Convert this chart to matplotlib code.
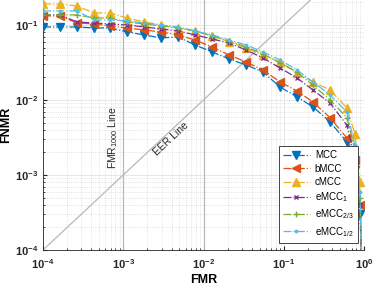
import numpy as np
import matplotlib
matplotlib.use("Agg")
import matplotlib.pyplot as plt
from matplotlib.ticker import LogLocator, FuncFormatter, NullFormatter

plt.rcParams['font.family'] = ['Liberation Sans', 'DejaVu Sans']
plt.rcParams['mathtext.fontset'] = 'custom'
plt.rcParams['mathtext.rm'] = 'Liberation Sans'
plt.rcParams['mathtext.it'] = 'Liberation Sans'
plt.rcParams['mathtext.bf'] = 'Liberation Sans:bold'

# FMR operating points (shared by every curve)
fmr = [1e-4, 1.63e-4, 2.65e-4, 4.33e-4, 6.84e-4, 1.11e-3, 1.82e-3, 2.95e-3,
       4.81e-3, 7.83e-3, 0.0128, 0.0208, 0.0339, 0.0551, 0.0898, 0.146,
       0.231, 0.377, 0.614, 0.772, 0.891, 0.944]

fnmr_mcc = [0.094, 0.094, 0.094, 0.0912, 0.0912, 0.0807, 0.0736, 0.0671,
            0.0692, 0.0541, 0.0437, 0.0352, 0.0293, 0.0236, 0.0149, 0.011,
            0.0081, 0.0051, 0.00275, 0.00117, 0.0003, 5e-5]
fnmr_bmcc = [0.132, 0.132, 0.1063, 0.1031, 0.097, 0.0912, 0.0858, 0.0807,
             0.0736, 0.0631, 0.0509, 0.0398, 0.0321, 0.0251, 0.0174, 0.0132,
             0.0094, 0.0058, 0.0031, 0.00158, 0.0004, 5e-5]
fnmr_cmcc = [0.19, 0.19, 0.179, 0.1445, 0.1445, 0.124, 0.1096, 0.1, 0.0912,
             0.0832, 0.0714, 0.0594, 0.0494, 0.0398, 0.0321, 0.0229, 0.0174,
             0.0136, 0.0078, 0.0035, 0.0008, 5e-5]
fnmr_emcc1 = [0.136, 0.136, 0.1096, 0.1063, 0.1031, 0.1, 0.094, 0.0885,
              0.0832, 0.0736, 0.0651, 0.0575, 0.0464, 0.0363, 0.0267, 0.0197,
              0.0136, 0.0091, 0.0046, 0.00158, 0.0004, 5e-5]
fnmr_emcc23 = [0.136, 0.136, 0.136, 0.124, 0.124, 0.1096, 0.1031, 0.097,
               0.0912, 0.0832, 0.0714, 0.0612, 0.0509, 0.0411, 0.0311, 0.0236,
               0.0158, 0.01, 0.0058, 0.00215, 0.0005, 5e-5]
fnmr_emcc12 = [0.1537, 0.1537, 0.1537, 0.1166, 0.1166, 0.113, 0.1063, 0.1,
               0.094, 0.0832, 0.0736, 0.0631, 0.0541, 0.0437, 0.0342, 0.0251,
               0.0174, 0.0117, 0.0069, 0.0025, 0.0006, 5e-5]

labels = ['MCC', 'bMCC', 'cMCC', 'eMCC$_1$', 'eMCC$_{2/3}$', 'eMCC$_{1/2}$']
series = [fnmr_mcc, fnmr_bmcc, fnmr_cmcc, fnmr_emcc1, fnmr_emcc23, fnmr_emcc12]
colors = ['#0072BD', '#D95319', '#EDB120', '#7E2F8E', '#77AC30', '#4DBEEE']
markers = ['v', '<', '^', 'x', '+', '.']
msizes = [6, 6, 6, 3.5, 4.5, 3.5]

fig = plt.figure(figsize=(3.74, 2.89), dpi=100)
ax = fig.add_axes([43 / 374, 1 - 250 / 289, 321 / 374, 250 / 289])

# reference lines
ref_col = '#b8b8b8'
ax.plot([1e-4, 1], [1e-4, 1], color=ref_col, lw=0.9, zorder=1)
ax.axvline(1e-3, color=ref_col, lw=0.9, zorder=1)
ax.axvline(1e-2, color=ref_col, lw=0.9, zorder=1)

for y, lab, c, m, ms in zip(series, labels, colors, markers, msizes):
    ax.plot(fmr, y, linestyle='-.', color=c, marker=m, markersize=ms,
            markerfacecolor=c, markeredgecolor=c, lw=0.9, label=lab, zorder=3)

ax.set_xscale('log')
ax.set_yscale('log')
ax.set_xlim(1e-4, 1)
ax.set_ylim(1e-4, 0.215)

ax.text(0.92e-3, 3.2e-3, 'FMR$_{1000}$ Line', rotation=90, ha='right',
        va='center', fontsize=7.5, color='#262626')
ax.text(3.9e-3, 3.0e-3, 'EER Line', rotation=43, ha='center', va='center',
        rotation_mode='anchor', fontsize=7.5, color='#262626')

ax.xaxis.set_major_locator(LogLocator(base=10, numticks=10))
ax.yaxis.set_major_locator(LogLocator(base=10, numticks=10))
ax.xaxis.set_minor_locator(LogLocator(base=10, subs=np.arange(2, 10), numticks=20))
ax.yaxis.set_minor_locator(LogLocator(base=10, subs=np.arange(2, 10), numticks=20))
fmt = FuncFormatter(lambda v, p: r'$\mathbf{10^{%d}}$' % round(np.log10(v)))
ax.xaxis.set_major_formatter(fmt)
ax.yaxis.set_major_formatter(fmt)
ax.xaxis.set_minor_formatter(NullFormatter())
ax.yaxis.set_minor_formatter(NullFormatter())
ax.tick_params(which='both', direction='in', colors='#262626', labelsize=8,
               top=False, right=False)
ax.tick_params(which='major', length=3)
ax.tick_params(which='minor', length=1.5)
ax.tick_params(axis='x', which='major', pad=5)

ax.grid(True, which='major', color='#e3e3e3', lw=0.6, zorder=0)
ax.grid(True, which='minor', color='#d0d0d0', lw=0.5, linestyle=':', zorder=0)
ax.set_axisbelow(True)
for s in ['left', 'bottom']:
    ax.spines[s].set_color('#262626')
    ax.spines[s].set_linewidth(0.6)
for s in ['top', 'right']:
    ax.spines[s].set_visible(False)

ax.set_xlabel('FMR', fontsize=9, fontweight='bold', labelpad=2)
ax.set_ylabel('FNMR', fontsize=9, fontweight='bold', labelpad=2)

leg = ax.legend(loc='lower right', bbox_to_anchor=(0.98, 0.03), borderaxespad=0,
                fontsize=7, handlelength=2.8, handletextpad=0.5, labelspacing=0.35,
                borderpad=0.4, fancybox=False, framealpha=1)
leg.get_frame().set_edgecolor('#262626')
leg.get_frame().set_linewidth(0.6)

fig.savefig('out.png', dpi=100)
